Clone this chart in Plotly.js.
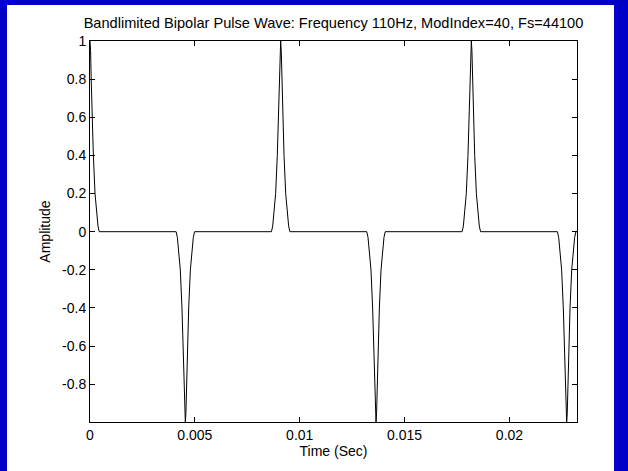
<!DOCTYPE html>
<html>
<head>
<meta charset="utf-8">
<script src="https://cdn.plot.ly/plotly-3.0.1.min.js"></script>
<style>
  html, body { margin: 0; padding: 0; background: rgb(0,0,200); width: 628px; height: 471px; overflow: hidden; }
  #chart { position: absolute; left: 7px; top: 5px; width: 607px; height: 466px; background: #fff; }
</style>
</head>
<body>
<div id="chart"></div>
<script>
// Time samples (s)
const timeSec = [
  0.0, 0.000028, 0.000057, 0.0001, 0.00016, 0.00024, 0.00031, 0.00038, 0.00044,
  0.0041055, 0.0041655, 0.0042355, 0.0043055, 0.0043855, 0.0044455, 0.0044885, 0.0045175, 0.0045455,
  0.0045735, 0.0046025, 0.0046455, 0.0047055, 0.0047855, 0.0048555, 0.0049255, 0.0049855,
  0.0086509, 0.0087109, 0.0087809, 0.0088509, 0.0089309, 0.0089909, 0.0090339, 0.0090629, 0.0090909,
  0.0091189, 0.0091479, 0.0091909, 0.0092509, 0.0093309, 0.0094009, 0.0094709, 0.0095309,
  0.0131964, 0.0132564, 0.0133264, 0.0133964, 0.0134764, 0.0135364, 0.0135794, 0.0136084, 0.0136364,
  0.0136644, 0.0136934, 0.0137364, 0.0137964, 0.0138764, 0.0139464, 0.0140164, 0.0140764,
  0.0177418, 0.0178018, 0.0178718, 0.0179418, 0.0180218, 0.0180818, 0.0181248, 0.0181538, 0.0181818,
  0.0182098, 0.0182388, 0.0182818, 0.0183418, 0.0184218, 0.0184918, 0.0185618, 0.0186218,
  0.0222873, 0.0223473, 0.0224173, 0.0224873, 0.0225673, 0.0226273, 0.0226703, 0.0226993, 0.0227273,
  0.0227553, 0.0227843, 0.0228273, 0.0228873, 0.0229673, 0.0230373, 0.0231073, 0.0231673, 0.02322
];
// Amplitude at those samples
const amplitude = [
  1, 0.95, 0.8, 0.6, 0.4, 0.2, 0.1, 0.03, 0,
  0, -0.03, -0.1, -0.2, -0.4, -0.6, -0.8, -0.95, -1,
  -0.95, -0.8, -0.6, -0.4, -0.2, -0.1, -0.03, 0,
  0, 0.03, 0.1, 0.2, 0.4, 0.6, 0.8, 0.95, 1,
  0.95, 0.8, 0.6, 0.4, 0.2, 0.1, 0.03, 0,
  0, -0.03, -0.1, -0.2, -0.4, -0.6, -0.8, -0.95, -1,
  -0.95, -0.8, -0.6, -0.4, -0.2, -0.1, -0.03, 0,
  0, 0.03, 0.1, 0.2, 0.4, 0.6, 0.8, 0.95, 1,
  0.95, 0.8, 0.6, 0.4, 0.2, 0.1, 0.03, 0,
  0, -0.03, -0.1, -0.2, -0.4, -0.6, -0.8, -0.95, -1,
  -0.95, -0.8, -0.6, -0.4, -0.2, -0.1, -0.03, 0, 0
];
const xTickVals = [0, 0.005, 0.01, 0.015, 0.02];
const xTickText = ["0", "0.005", "0.01", "0.015", "0.02"];
const yTickVals = [-0.8, -0.6, -0.4, -0.2, 0, 0.2, 0.4, 0.6, 0.8, 1];
const yTickText = ["-0.8", "-0.6", "-0.4", "-0.2", "0", "0.2", "0.4", "0.6", "0.8", "1"];

const FONT = "Liberation Sans, Arial, sans-serif";

Plotly.newPlot('chart', [{
  x: timeSec,
  y: amplitude,
  type: 'scatter',
  mode: 'lines',
  line: { color: '#000', width: 1 },
  hoverinfo: 'skip'
}], {
  width: 607,
  height: 466,
  paper_bgcolor: '#fff',
  plot_bgcolor: '#fff',
  showlegend: false,
  margin: { l: 83, r: 37, t: 35.5, b: 48.5 },
  font: { family: FONT, size: 14, color: '#000' },
  title: {
    text: 'Bandlimited Bipolar Pulse Wave: Frequency 110Hz, ModIndex=40, Fs=44100',
    font: { family: FONT, size: 14.6, color: '#000' },
    x: 0.5, xref: 'paper', xanchor: 'center',
    y: 1, yref: 'paper', yanchor: 'bottom',
    pad: { b: 13 }
  },
  xaxis: {
    range: [0, 0.02322],
    tickvals: xTickVals,
    ticktext: xTickText,
    ticks: 'inside',
    ticklen: 5,
    tickcolor: '#000',
    showline: true,
    linecolor: '#000',
    linewidth: 1,
    mirror: 'ticks',
    showgrid: false,
    zeroline: false,
    tickfont: { family: FONT, size: 14, color: '#000' },
    title: { text: 'Time (Sec)', font: { family: FONT, size: 14, color: '#000' }, standoff: 4 }
  },
  yaxis: {
    range: [-0.998, 1],
    tickvals: yTickVals,
    ticktext: yTickText,
    ticks: 'inside',
    ticklen: 5,
    tickcolor: '#000',
    showline: true,
    linecolor: '#000',
    linewidth: 1,
    mirror: 'ticks',
    showgrid: false,
    zeroline: false,
    tickfont: { family: FONT, size: 14, color: '#000' },
    title: { text: 'Amplitude', font: { family: FONT, size: 14, color: '#000' }, standoff: 8 }
  }
}, { displayModeBar: false, staticPlot: true });
</script>
</body>
</html>
